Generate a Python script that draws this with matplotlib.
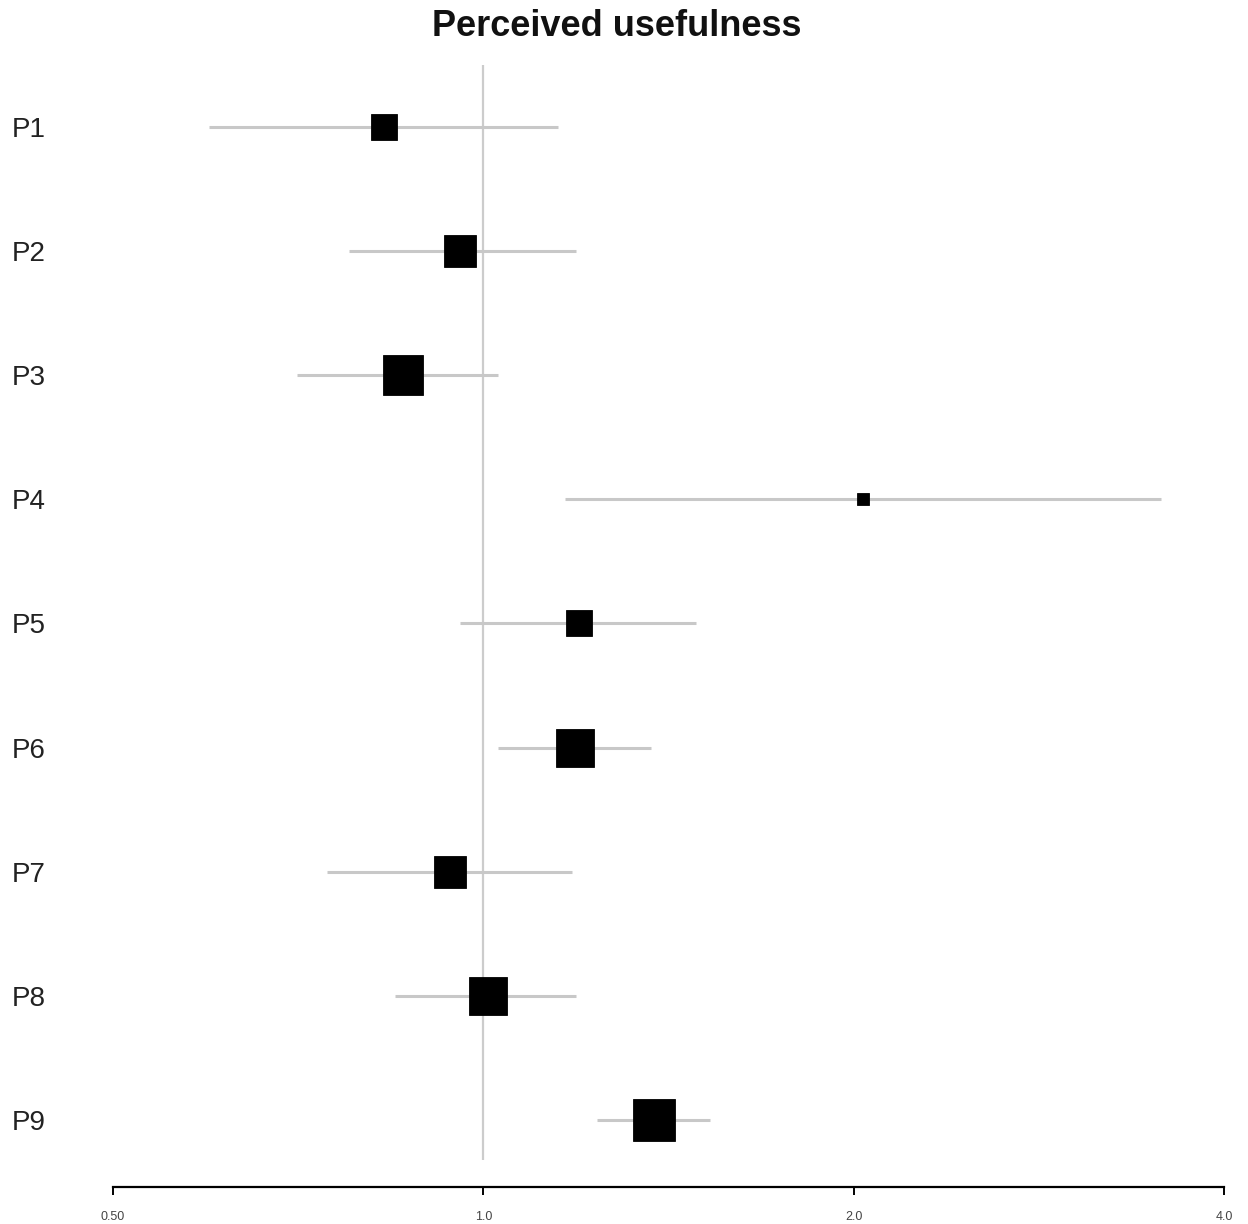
import matplotlib.pyplot as plt
import numpy as np

plt.rcParams["font.family"] = ["Liberation Sans", "DejaVu Sans"]

labels = ["P1", "P2", "P3", "P4", "P5", "P6", "P7", "P8", "P9"]
estimate = [0.830, 0.958, 0.860, 2.034, 1.197, 1.188, 0.939, 1.009, 1.376]
lower = [0.598, 0.777, 0.706, 1.166, 0.958, 1.028, 0.747, 0.848, 1.237]
upper = [1.150, 1.190, 1.028, 3.556, 1.489, 1.369, 1.181, 1.190, 1.528]
weight = [7.2, 10.8, 15.8, 1.4, 7.2, 14.3, 10.8, 14.3, 18.3]
xticks = [0.5, 1.0, 2.0, 4.0]
xtick_labels = ["0.50", "1.0", "2.0", "4.0"]


def main():
    fig = plt.figure(figsize=(12.48, 12.24), dpi=100)
    ax = fig.add_axes([113 / 1248, 1 - 1187 / 1224, (1224 - 113) / 1248, (1187 - 52.5) / 1224])

    rows = np.arange(1, len(labels) + 1)
    ax.vlines(1.0, 0.5, 9.32, color="#cccccc", lw=1.6, zorder=1)
    ax.hlines(rows, lower, upper, color="#c8c8c8", lw=2.2, zorder=2)

    w = np.asarray(weight)
    size_px = 43 * np.sqrt(w / w.max())
    for r, est, s in zip(rows, estimate, size_px):
        ax.plot(est, r, marker="s", ms=s / 1.389 - 0.5, mfc="black", mec="black",
                mew=0.6, ls="none", zorder=3)

    ax.set_xscale("log", base=2)
    ax.set_xlim(0.5, 4.0)
    ax.set_ylim(9.54, 0.4)
    ax.set_xticks(xticks)
    ax.set_xticklabels(xtick_labels, fontsize=9, color="#444444")
    ax.minorticks_off()
    ax.tick_params(axis="x", length=6, width=1.4, pad=11)

    ax.set_yticks(rows)
    ax.set_yticklabels(labels, fontsize=20, ha="left", color="#222222")
    ax.tick_params(axis="y", length=0, pad=(113 - 12) / 1.389)

    for side in ["top", "right", "left"]:
        ax.spines[side].set_visible(False)
    ax.spines["bottom"].set_linewidth(1.6)

    fig.text(617 / 1248, 1 - 27 / 1224, "Perceived usefulness", ha="center", va="center",
             fontsize=26, fontweight="bold", color="#111111")

    fig.savefig("out.png", dpi=100, facecolor="white")


if __name__ == "__main__":
    main()
